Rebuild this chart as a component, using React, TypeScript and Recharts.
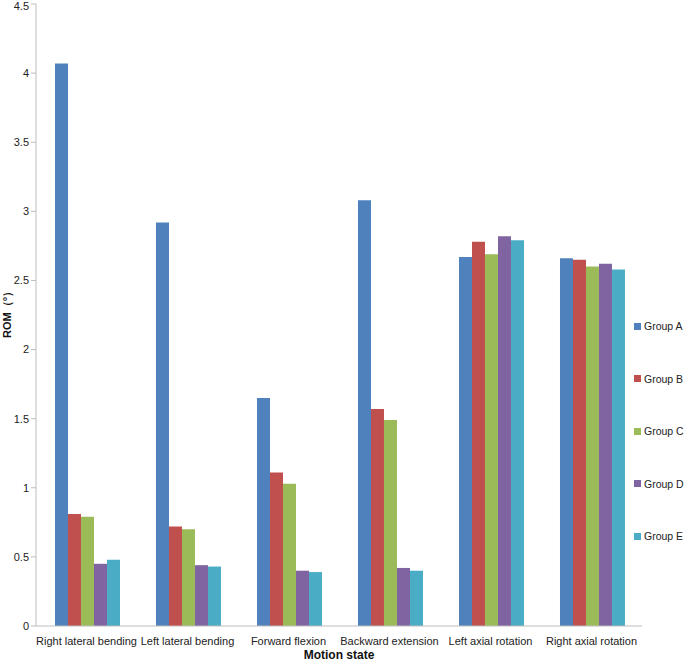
import { Bar, BarChart, Legend, XAxis, YAxis } from "recharts";

const motionStates = [
  "Right lateral bending",
  "Left lateral bending",
  "Forward flexion",
  "Backward extension",
  "Left axial rotation",
  "Right axial rotation",
];

const groupA = [4.07, 2.92, 1.65, 3.08, 2.67, 2.66];
const groupB = [0.81, 0.72, 1.11, 1.57, 2.78, 2.65];
const groupC = [0.79, 0.7, 1.03, 1.49, 2.69, 2.6];
const groupD = [0.45, 0.44, 0.4, 0.42, 2.82, 2.62];
const groupE = [0.48, 0.43, 0.39, 0.4, 2.79, 2.58];

const yTicks = [0, 0.5, 1, 1.5, 2, 2.5, 3, 3.5, 4, 4.5];

const series = [
  { key: "Group A", color: "#4F81BD" },
  { key: "Group B", color: "#C0504D" },
  { key: "Group C", color: "#9BBB59" },
  { key: "Group D", color: "#8064A2" },
  { key: "Group E", color: "#4BACC6" },
];

const dados = motionStates.map((m, i) => ({
  state: m,
  "Group A": groupA[i],
  "Group B": groupB[i],
  "Group C": groupC[i],
  "Group D": groupD[i],
  "Group E": groupE[i],
}));

const font = "'Liberation Sans', Arial, Helvetica, sans-serif";

const LegendaLateral = () => (
  <div style={{ fontFamily: font, fontSize: 10.5, color: "#222", width: 50 }}>
    {series.map((s) => (
      <div
        key={s.key}
        style={{
          display: "flex",
          alignItems: "center",
          height: 52.5,
          whiteSpace: "nowrap",
        }}
      >
        <span
          style={{
            display: "inline-block",
            flexShrink: 0,
            width: 7,
            height: 7,
            background: s.color,
            marginRight: 3,
          }}
        />
        <span>{s.key}</span>
      </div>
    ))}
  </div>
);

const App = () => {
  return (
    <div style={{ position: "absolute", left: 0, top: 0, background: "#fff" }}>
      <BarChart
        width={685}
        height={662}
        data={dados}
        margin={{ top: 4, right: 43, left: 0, bottom: 0 }}
        barCategoryGap="18.8%"
        barGap={0}
      >
        <XAxis
          dataKey="state"
          height={36}
          tickLine={false}
          tickMargin={5}
          axisLine={{ stroke: "#bdbdbd" }}
          tick={{ fontSize: 11, fill: "#222", fontFamily: font }}
          interval={0}
          label={{
            value: "Motion state",
            position: "insideBottom",
            offset: 3,
            style: { fontSize: 12, fontWeight: "bold", fill: "#111", fontFamily: font },
          }}
        />
        <YAxis
          width={36}
          domain={[0, 4.5]}
          ticks={yTicks}
          tickSize={5}
          tickMargin={2}
          tickLine={{ stroke: "#bdbdbd" }}
          axisLine={{ stroke: "#bdbdbd" }}
          tick={{ fontSize: 11, fill: "#222", fontFamily: font }}
          label={{
            content: () => (
              <text
                x={8}
                y={312}
                transform="rotate(-90 8 312)"
                textAnchor="middle"
                dominantBaseline="middle"
                style={{ fontSize: 11, fontWeight: "bold", fill: "#111", fontFamily: font }}
              >
                ROM（°）
              </text>
            ),
          }}
        />
        <Legend
          content={<LegendaLateral />}
          wrapperStyle={{
            position: "absolute",
            left: 634,
            top: 300,
            width: 0,
            height: 0,
            overflow: "visible",
          }}
        />
        {series.map((s) => (
          <Bar
            key={s.key}
            dataKey={s.key}
            fill={s.color}
            isAnimationActive={false}
          />
        ))}
      </BarChart>
    </div>
  );
};

export default App;
